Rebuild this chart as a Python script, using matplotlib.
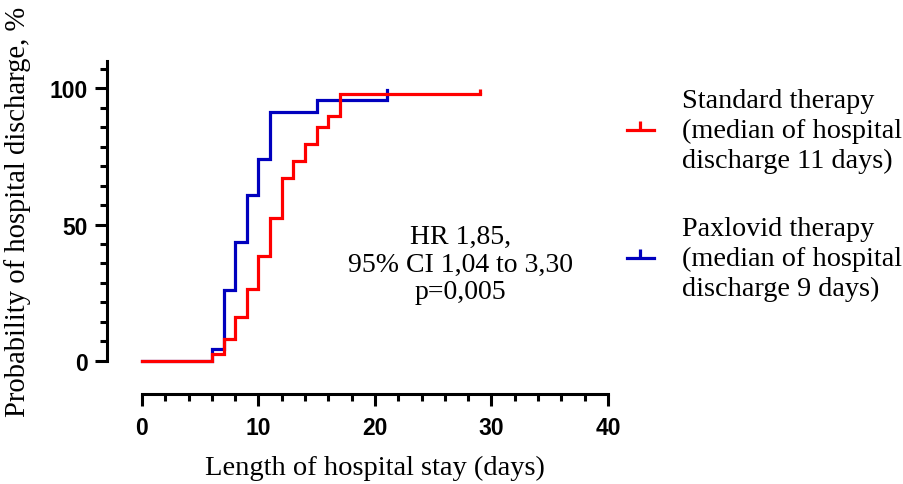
import matplotlib
matplotlib.use("Agg")
import matplotlib.pyplot as plt
import numpy as np
from matplotlib.path import Path
from matplotlib.lines import Line2D

# Data
std_days = [0, 6, 7, 8, 9, 10, 11, 12, 13, 14, 15, 16, 17, 29]
std_prob = [0, 2.6, 8.1, 16.2, 26.4, 38.6, 52.6, 67.2, 73.4, 79.5, 85.8, 89.9, 98.0, 98.0]
std_censor_day = [29]
std_censor_prob = [98.0]

pax_days = [0, 6, 7, 8, 9, 10, 11, 15, 21]
pax_prob = [0, 4.4, 26.1, 43.5, 60.8, 74.0, 91.3, 95.6, 99.4]

x_ticks = [0, 10, 20, 30, 40]
y_ticks = [0, 50, 100]

labels = ["Standard therapy\n(median of hospital\ndischarge 11 days)",
          "Paxlovid therapy\n(median of hospital\ndischarge 9 days)"]
stats_text = "HR 1,85,\n95% CI 1,04 to 3,30\np=0,005"

RED = "#FF0000"
BLUE = "#0000BE"
SERIF = ["Liberation Serif", "DejaVu Serif"]
SANS = ["Liberation Sans", "DejaVu Sans"]

# upward censor tick marker
tick_marker = Path([(0, 0), (0, 1)], [Path.MOVETO, Path.LINETO])

fig = plt.figure(figsize=(9.04, 4.85), dpi=100)
ax = fig.add_axes([0.1184, 0.1856, 0.558, 0.689])

lw = 2.3
ax.step(pax_days, pax_prob, where="post", color=BLUE, lw=lw, solid_joinstyle="miter")
ax.step(std_days, std_prob, where="post", color=RED, lw=lw, solid_joinstyle="miter")
ax.plot(std_censor_day, std_censor_prob, linestyle="none", marker=tick_marker,
        markersize=7, markeredgewidth=lw, color=RED)

ax.set_xlim(-3, 40.3)
ax.set_ylim(-12.2, 110.5)
for s in ["top", "right"]:
    ax.spines[s].set_visible(False)
ax.spines["left"].set_bounds(0, 110)
ax.spines["bottom"].set_bounds(0, 40)
ax.spines["left"].set_linewidth(2.2)
ax.spines["bottom"].set_linewidth(2.2)

ax.set_xticks(x_ticks)
ax.set_xticks(np.arange(0, 41, 2), minor=True)
ax.set_yticks(y_ticks)
ax.set_yticks(np.arange(0, 110.01, 50 / 7), minor=True)
ax.tick_params(which="major", length=8.6, width=2.2)
ax.tick_params(axis="x", which="major", pad=7)
ax.tick_params(axis="y", which="major", pad=5.5)
ax.tick_params(which="minor", length=5, width=2.2)
for lab in ax.get_xticklabels() + ax.get_yticklabels():
    lab.set_fontfamily(SANS)
    lab.set_fontweight("bold")
    lab.set_fontsize(16.5)

ax.set_xlabel("Length of hospital stay (days)", fontfamily=SERIF, fontsize=20.5)
ax.set_ylabel("Probability of hospital discharge, %", fontfamily=SERIF, fontsize=20.6)
ax.xaxis.set_label_coords(0.531, -0.1825)
ax.yaxis.set_label_coords(-0.151, 0.5477)

fig.text(0.509, 0.4536, stats_text, ha="center", va="center",
         fontfamily=SERIF, fontsize=20, linespacing=1.13)

handles = [Line2D([], [], color=RED, lw=lw, marker=tick_marker, markersize=13,
                  markeredgewidth=lw),
           Line2D([], [], color=BLUE, lw=lw, marker=tick_marker, markersize=13,
                  markeredgewidth=lw)]
leg = fig.legend(handles, labels, loc="upper left", bbox_to_anchor=(0.6936, 0.8165),
                 frameon=False, prop={"family": SERIF, "size": 20.3},
                 borderpad=0, borderaxespad=0,
                 handlelength=0.95, handletextpad=1.0, labelspacing=1.55, numpoints=1)
for t in leg.get_texts():
    t.set_linespacing(1.24)

fig.savefig("out.png", dpi=100)
